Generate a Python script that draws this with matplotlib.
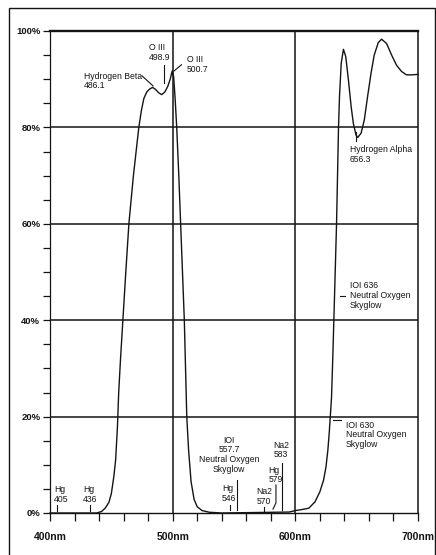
import numpy as np
import matplotlib
matplotlib.use('Agg')
import matplotlib.pyplot as plt
from matplotlib.patches import Rectangle

plt.rcParams['font.family'] = ['Liberation Sans', 'DejaVu Sans']

# transmission curve (nm, %)
wavelength = [400, 438, 442, 445, 448, 450, 452, 453.5, 455, 456, 457.5, 459.4,
              461.8, 464.3, 468, 472.4, 474.5, 476.5, 479, 481.5, 483.6, 486,
              488.5, 491, 493.5, 496, 498, 499.6, 500.8, 502, 503.3, 505, 506.5,
              508, 509.5, 510.5, 511.5, 513, 515, 517.5, 520, 524, 530, 540,
              595, 600, 605, 611, 616, 620, 623, 625, 626.5, 627.6, 628.5, 629.5,
              630.5, 631.4, 632.5, 633.6, 634.4, 635.2, 636, 637.4, 639.2, 641.1,
              643.3, 645.5, 647.3, 649.5, 650.8, 653.6, 656.2, 658.9, 661.7, 664.3,
              667.6, 670.3, 674.4, 678.5, 682.5, 686.6, 690.6, 694.7, 700]
transmission = [0, 0, 0.3, 1.0, 2.2, 4.0, 7.5, 11, 18, 25, 32, 40,
                50, 60, 70, 80, 83.5, 86, 87.4, 88, 88.3, 87.9,
                87.2, 86.8, 87.3, 88.5, 90, 91.7, 90.5, 86, 80, 70, 60,
                50, 40, 30, 20, 13, 6.5, 2.8, 1.3, 0.5, 0.15, 0,
                0.2, 0.5, 0.7, 1.0, 2.3, 4.4, 6.8, 9.6, 13, 16.5, 20, 24,
                32, 40, 50, 60, 70, 80, 86.4, 93.3, 96.2, 94.7,
                89.8, 84.3, 80.8, 78.4, 77.9, 78.8, 81.5, 86.4, 91.2, 95,
                97.6, 98.3, 97.4, 95, 92.9, 91.6, 90.9, 90.9, 91]

y_ticks = [0, 20, 40, 60, 80, 100]
y_labels = ['0%', '20%', '40%', '60%', '80%', '100%']
x_ticks = [400, 500, 600, 700]
x_labels = ['400nm', '500nm', '600nm', '700nm']

# line labels: text, x (nm), y (%), alignment
labels = [
    ("Hydrogen Beta\n486.1", 427.7, 89.6, 'left'),
    ("O III\n498.9", 480.7, 95.6, 'left'),
    ("O III\n500.7", 511.7, 93.0, 'left'),
    ("Hydrogen Alpha\n656.3", 644.6, 74.4, 'left'),
    ("IOI 636\nNeutral Oxygen\nSkyglow", 644.6, 45.1, 'left'),
    ("IOI 630\nNeutral Oxygen\nSkyglow", 641.3, 16.2, 'left'),
    ("IOI\n557.7\nNeutral Oxygen\nSkyglow", 545.9, 12.1, 'center'),
    ("Hg\n546", 540.2, 4.0, 'left'),
    ("Na2\n570", 568.5, 3.4, 'left'),
    ("Hg\n579", 578.0, 7.9, 'left'),
    ("Na2\n583", 582.0, 13.1, 'left'),
    ("Hg\n405", 403.3, 3.8, 'left'),
    ("Hg\n436", 426.9, 3.8, 'left'),
]

# little pointer strokes next to the labels
pointers = [
    ([475.0, 484.0], [90.7, 88.6]),
    ([492.9, 492.9], [92.9, 89.2]),
    ([507.2, 501.1], [93.0, 91.7]),
    ([649.2, 649.2], [79.1, 77.1]),
    ([636.2, 640.3], [45.0, 45.0]),
    ([630.7, 637.4], [19.3, 19.3]),
    ([552.2, 552.2], [6.8, 0.6]),
    ([546.7, 546.7], [1.7, 0.6]),
    ([574.4, 574.4], [1.2, 0.5]),
    ([584.2, 584.2, 581.8], [5.8, 2.1, 0.8]),
    ([589.4, 589.4], [10.4, 0.6]),
    ([406.0, 406.0], [1.7, 0.4]),
    ([432.6, 432.6], [1.7, 0.4]),
]

ink = '#141414'

fig = plt.figure(figsize=(4.36, 5.55), dpi=100)
fig.patch.set_facecolor('white')
ax = fig.add_axes([50/436, 1 - 513/555, 368/436, 482/555])

ax.plot(wavelength, transmission, color=ink, lw=1.0, clip_on=False, zorder=3)

for y in y_ticks[1:-1]:
    ax.axhline(y, color=ink, lw=1.1, zorder=1)
for x in x_ticks[1:-1]:
    ax.axvline(x, color=ink, lw=1.1, zorder=1)

ax.set_xlim(400, 700)
ax.set_ylim(0, 100)

ax.spines['top'].set_linewidth(1.7)
ax.spines['right'].set_linewidth(1.1)
ax.spines['left'].set_linewidth(0.9)
ax.spines['bottom'].set_linewidth(1.0)
for s in ax.spines.values():
    s.set_color(ink)

ax.set_xticks(x_ticks)
ax.set_xticklabels(x_labels, fontsize=7.5, fontweight='bold')
ax.set_xticks(np.arange(400, 701, 20), minor=True)
ax.set_yticks(y_ticks)
ax.set_yticklabels(y_labels, fontsize=6.8, fontweight='bold')
ax.set_yticks(np.arange(0, 101, 5), minor=True)
ax.tick_params(axis='x', which='both', direction='out', length=6, width=0.9,
               pad=8, color=ink, labelcolor=ink)
ax.tick_params(axis='y', which='both', direction='out', length=5, width=0.9,
               pad=2, color=ink, labelcolor=ink)

for txt, x, y, ha in labels:
    ax.text(x, y, txt, ha=ha, va='center', fontsize=6.2, color=ink,
            linespacing=1.1, multialignment=ha)

for xs, ys in pointers:
    ax.plot(xs, ys, color=ink, lw=0.8, clip_on=False)

# page frame around the scan
fig.patches.append(Rectangle((9/436, -0.02), 426/436, 1.02 - 7.5/555,
                             transform=fig.transFigure, fill=False,
                             edgecolor=ink, lw=1.0))

fig.savefig('out.png', dpi=100, facecolor='white')
